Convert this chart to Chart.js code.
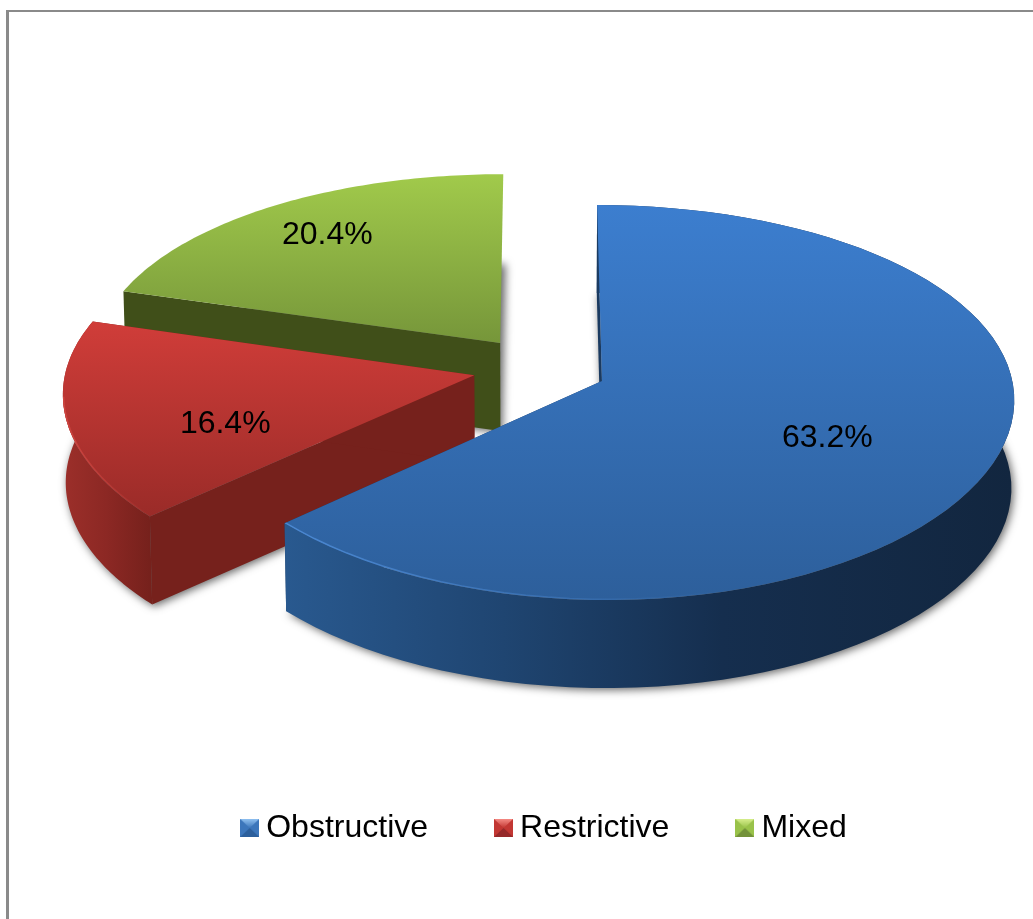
<!DOCTYPE html>
<html>
<head>
<meta charset="utf-8">
<style>
  html, body { margin: 0; padding: 0; background: #fff; overflow: hidden; }
  #frame { position: absolute; left: 6px; top: 10px; right: 0; bottom: 0; border-left: 3px solid #8a8a8a; border-top: 2px solid #8a8a8a; }
  #pie { position: absolute; left: 0; top: 0; }
</style>
<script src="https://cdn.jsdelivr.net/npm/chart.js@4"></script>
</head>
<body>
<div id="frame"></div>
<canvas id="pie" width="1033" height="919"></canvas>
<script>
var categories = ["Obstructive", "Restrictive", "Mixed"];
var shares = [63.2, 16.4, 20.4];

// look of each slice
var topColors = [["#3c7ecf", "#2d5f9b"], ["#d03d39", "#9a2b28"], ["#a1ca4b", "#76963a"]];
var wallColors = [
    [[0, "#29598f"], [0.3, "#1f4571"], [0.6, "#152e4e"], [1, "#12263f"]],
    [[0, "#9c2f2a"], [0.5, "#8c2824"], [1, "#76211c"]],
    [[0, "#404f19"], [1, "#404f19"]]
];
var sideColors = ["#1a3a60", "#76211c", "#404f19"];
var rimColors = ["#4b88d2", "#cf4540", "#a1ca4b"];
var rimFade = [0.6, 1, 1];
var endWalls = [true, true, false];
var markerColors = [
    ["#8fc0f0", "#3c76bb", "#2c5f9c"],
    ["#f58a84", "#c23733", "#96292a"],
    ["#d6ee8c", "#99c24a", "#73923a"]
];
var labelRadius = [0.6, 0.62, 0.7];
var labelNudgeU = [-0.017, 0.012, -0.037];
var labelNudgeV = [0.045, 0.105, -0.052];

// tilted-plane projection of the pie
var view = { x: 540, y: 368, a: 408, b: 192.3, px: 0.085, py: 0.109, explode: 0.165, depth: 88, shrink: 0.994 };

function project(u, v, low) {
    var x = view.x + view.a * u / (1 - view.px * v);
    var y = view.y + view.b * v / (1 - view.py * v);
    if (low) {
        x = view.x + (x - view.x) * view.shrink;
        y += view.depth;
    }
    return [x, y];
}

function rimPoints(arc, low) {
    var mid = (arc.startAngle + arc.endAngle) / 2;
    var ou = Math.cos(mid) * view.explode, ov = Math.sin(mid) * view.explode;
    var n = 80, pts = [];
    for (var i = 0; i <= n; i++) {
        var t = arc.startAngle + (arc.endAngle - arc.startAngle) * i / n;
        pts.push(project(ou + Math.cos(t), ov + Math.sin(t), low));
    }
    return { pts: pts, apex: project(ou, ov, low) };
}

function trace(ctx, pts) {
    ctx.beginPath();
    pts.forEach(function(p, i) {
        if (i === 0) ctx.moveTo(p[0], p[1]); else ctx.lineTo(p[0], p[1]);
    });
    ctx.closePath();
}

function drawSlice(ctx, arc, i) {
    var up = rimPoints(arc, false), low = rimPoints(arc, true);
    var xs = up.pts.map(function(p) { return p[0]; });
    var ys = up.pts.concat([up.apex]).map(function(p) { return p[1]; });
    var xMin = Math.min.apply(null, xs), xMax = Math.max.apply(null, xs);

    // soft shadow of the base, the shape itself is painted off the page
    ctx.save();
    ctx.shadowColor = "rgba(0,0,0,0.6)";
    ctx.shadowBlur = 8;
    ctx.shadowOffsetX = 2002;
    ctx.shadowOffsetY = 2;
    ctx.fillStyle = "#000";
    ctx.translate(-2000, 0);
    trace(ctx, [low.apex].concat(low.pts));
    ctx.fill();
    ctx.restore();

    // flat cut walls
    ctx.fillStyle = sideColors[i];
    trace(ctx, [up.apex, up.pts[0], low.pts[0], low.apex]);
    ctx.fill();
    if (endWalls[i]) {
        trace(ctx, [up.apex, up.pts[up.pts.length - 1], low.pts[low.pts.length - 1], low.apex]);
        ctx.fill();
    }

    // outer curved wall
    if (endWalls[i]) {
        var wg = ctx.createLinearGradient(xMin, 0, xMax, 0);
        wallColors[i].forEach(function(s) { wg.addColorStop(s[0], s[1]); });
        ctx.fillStyle = wg;
        trace(ctx, up.pts.concat(low.pts.slice().reverse()));
        ctx.fill();
    }

    // top face
    var tg = ctx.createLinearGradient(0, Math.min.apply(null, ys), 0, Math.max.apply(null, ys));
    tg.addColorStop(0, topColors[i][0]);
    tg.addColorStop(1, topColors[i][1]);
    ctx.fillStyle = tg;
    trace(ctx, [up.apex].concat(up.pts));
    ctx.fill();

    // light rim only where the top meets the front wall
    ctx.save();
    trace(ctx, [up.apex].concat(up.pts));
    ctx.clip();
    var rg = ctx.createLinearGradient(xMin, 0, xMax, 0);
    rg.addColorStop(0, rimColors[i]);
    rg.addColorStop(rimFade[i], rimColors[i] + "00");
    ctx.strokeStyle = rg;
    ctx.lineWidth = 3;
    ctx.beginPath();
    var pen = false;
    up.pts.forEach(function(p, k) {
        var t = arc.startAngle + (arc.endAngle - arc.startAngle) * k / 80;
        if (Math.sin(t) < 0.1) { pen = false; return; }
        if (!pen) ctx.moveTo(p[0], p[1]); else ctx.lineTo(p[0], p[1]);
        pen = true;
    });
    ctx.stroke();
    ctx.restore();
}

var pie3d = {
    id: "pie3d",
    beforeDatasetsDraw: function(chart) {
        var ctx = chart.ctx, arcs = chart.getDatasetMeta(0).data;
        ctx.save();
        for (var i = arcs.length - 1; i >= 0; i--) {
            drawSlice(ctx, arcs[i], i);
        }
        ctx.restore();
        return false;
    },
    afterDraw: function(chart) {
        var ctx = chart.ctx, arcs = chart.getDatasetMeta(0).data;
        ctx.save();
        ctx.fillStyle = "#000";
        ctx.font = "32px 'Liberation Sans'";
        ctx.textAlign = "center";
        ctx.textBaseline = "middle";
        arcs.forEach(function(arc, i) {
            var mid = (arc.startAngle + arc.endAngle) / 2;
            var r = view.explode + labelRadius[i];
            var p = project(Math.cos(mid) * r + labelNudgeU[i], Math.sin(mid) * r + labelNudgeV[i], false);
            ctx.fillText(shares[i].toFixed(1) + "%", p[0], p[1]);
        });
        ctx.restore();
    }
};

function makeMarker(c) {
    var m = document.createElement("canvas");
    m.width = 19;
    m.height = 18;
    var g = m.getContext("2d");
    g.fillStyle = c[1];
    g.fillRect(0, 0, 19, 18);
    var top = g.createLinearGradient(0, 0, 0, 9);
    top.addColorStop(0, c[0]);
    top.addColorStop(1, c[1]);
    g.fillStyle = top;
    g.beginPath(); g.moveTo(0, 0); g.lineTo(19, 0); g.lineTo(9.5, 9); g.closePath(); g.fill();
    g.fillStyle = c[2];
    g.beginPath(); g.moveTo(0, 18); g.lineTo(19, 18); g.lineTo(9.5, 9); g.closePath(); g.fill();
    return m;
}

var markers = markerColors.map(makeMarker);

new Chart(document.getElementById("pie").getContext("2d"), {
    type: "pie",
    data: {
        labels: categories,
        datasets: [{ data: shares, backgroundColor: ["#3c7ecf", "#d03d39", "#a1ca4b"], borderWidth: 0 }]
    },
    options: {
        responsive: false,
        animation: false,
        layout: { padding: { left: 63, bottom: 65 } },
        plugins: {
            tooltip: { enabled: false },
            legend: {
                position: "bottom",
                labels: {
                    usePointStyle: true,
                    pointStyleWidth: 1,
                    padding: 75,
                    color: "#000",
                    font: { family: "'Liberation Sans'", size: 32 },
                    generateLabels: function(chart) {
                        return chart.data.labels.map(function(t, i) {
                            return { text: t, pointStyle: markers[i], index: i, hidden: false, lineWidth: 0, fontColor: "#000" };
                        });
                    }
                }
            }
        }
    },
    plugins: [pie3d]
});
</script>
</body>
</html>
